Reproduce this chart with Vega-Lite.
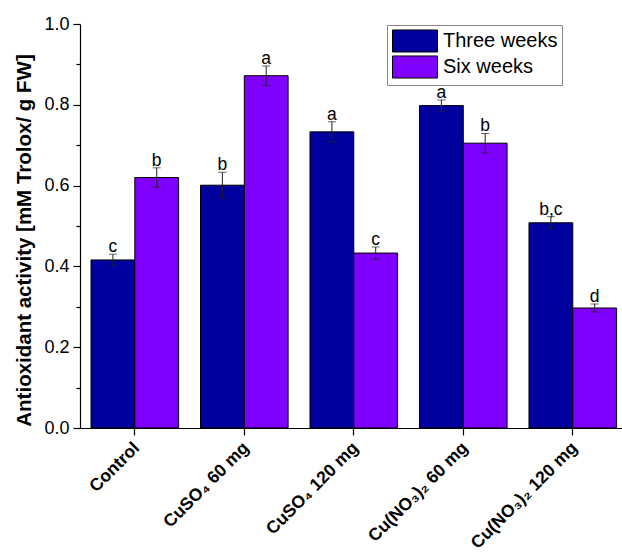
{
  "$schema": "https://vega.github.io/schema/vega-lite/v6.json",
  "width": 542,
  "height": 404,
  "autosize": {"type": "none"},
  "padding": {"left": 80, "top": 24, "right": 0, "bottom": 131},
  "background": "white",
  "config": {
    "view": {"stroke": null},
    "font": "Liberation Sans"
  },
  "data": {
    "values": [
      {"treatment": "Control", "period": "Three weeks", "value": 0.416, "lo": 0.402, "hi": 0.430, "letter": "c"},
      {"treatment": "Control", "period": "Six weeks", "value": 0.620, "lo": 0.596, "hi": 0.644, "letter": "b"},
      {"treatment": "CuSO₄ 60 mg", "period": "Three weeks", "value": 0.601, "lo": 0.569, "hi": 0.633, "letter": "b"},
      {"treatment": "CuSO₄ 60 mg", "period": "Six weeks", "value": 0.872, "lo": 0.848, "hi": 0.896, "letter": "a"},
      {"treatment": "CuSO₄ 120 mg", "period": "Three weeks", "value": 0.733, "lo": 0.708, "hi": 0.758, "letter": "a"},
      {"treatment": "CuSO₄ 120 mg", "period": "Six weeks", "value": 0.433, "lo": 0.418, "hi": 0.448, "letter": "c"},
      {"treatment": "Cu(NO₃)₂ 60 mg", "period": "Three weeks", "value": 0.798, "lo": 0.784, "hi": 0.812, "letter": "a"},
      {"treatment": "Cu(NO₃)₂ 60 mg", "period": "Six weeks", "value": 0.705, "lo": 0.681, "hi": 0.729, "letter": "b"},
      {"treatment": "Cu(NO₃)₂ 120 mg", "period": "Three weeks", "value": 0.508, "lo": 0.493, "hi": 0.523, "letter": "b,c"},
      {"treatment": "Cu(NO₃)₂ 120 mg", "period": "Six weeks", "value": 0.297, "lo": 0.287, "hi": 0.307, "letter": "d"}
    ]
  },
  "encoding": {
    "x": {
      "field": "treatment",
      "type": "nominal",
      "sort": ["Control", "CuSO₄ 60 mg", "CuSO₄ 120 mg", "Cu(NO₃)₂ 60 mg", "Cu(NO₃)₂ 120 mg"],
      "scale": {"paddingInner": 0.2, "paddingOuter": 0.075, "align": 0.67},
      "axis": {
        "title": null,
        "labelAngle": -45,
        "labelAlign": "right",
        "labelBaseline": "middle",
        "labelFontSize": 17.5,
        "labelFontWeight": "bold",
        "labelColor": "black",
        "labelPadding": 10,
        "labelOffset": 2,
        "tickSize": 7,
        "tickColor": "black",
        "domainColor": "black",
        "domainWidth": 1.2,
        "tickWidth": 1.2,
        "labelLimit": 300
      }
    },
    "xOffset": {"field": "period", "type": "nominal", "sort": ["Three weeks", "Six weeks"], "scale": {"paddingInner": 0, "paddingOuter": 0}}
  },
  "layer": [
    {
      "mark": {"type": "bar", "stroke": "black", "strokeWidth": 1},
      "encoding": {
        "y": {
          "field": "value",
          "type": "quantitative",
          "scale": {"domain": [0, 1], "nice": false, "zero": true},
          "axis": {
            "title": "Antioxidant activity [mM Trolox/ g FW]",
            "titleFontSize": 20.5,
            "titleFontWeight": "bold",
            "titleColor": "black",
            "titlePadding": 9,
            "titleY": 216,
            "values": [0, 0.1, 0.2, 0.3, 0.4, 0.5, 0.6, 0.7, 0.8, 0.9, 1.0],
            "labelExpr": "round(datum.value*10)%2==0 ? format(datum.value, '.1f') : ''",
            "labelFontSize": 18,
            "labelColor": "black",
            "labelPadding": 4,
            "tickSize": {"condition": {"test": "round(datum.value*10)%2==0", "value": 7}, "value": 4},
            "tickColor": "black",
            "tickWidth": 1.2,
            "domainColor": "black",
            "domainWidth": 1.2,
            "grid": false
          }
        },
        "color": {
          "field": "period",
          "type": "nominal",
          "sort": ["Three weeks", "Six weeks"],
          "scale": {"domain": ["Three weeks", "Six weeks"], "range": ["#00009F", "#8000FF"]},
          "legend": {
            "title": null,
            "orient": "none",
            "legendX": 307,
            "legendY": 1,
            "symbolType": "M-2,-0.98H2V0.98H-2Z",
            "symbolSize": 506,
            "symbolOffset": 12,
            "symbolStrokeColor": "black",
            "symbolStrokeWidth": 1,
            "labelFontSize": 20,
            "labelColor": "black",
            "labelOffset": 16,
            "rowPadding": -5,
            "padding": 4,
            "strokeColor": "#888888",
            "fillColor": "white",
            "labelLimit": 300
          }
        }
      }
    },
    {
      "mark": {"type": "rule", "color": "#222222", "strokeWidth": 1},
      "encoding": {
        "y": {"field": "lo", "type": "quantitative"},
        "y2": {"field": "hi"}
      }
    },
    {
      "mark": {"type": "tick", "color": "#222222", "size": 8, "thickness": 1},
      "encoding": {
        "y": {"field": "lo", "type": "quantitative"}
      }
    },
    {
      "mark": {"type": "tick", "color": "#222222", "size": 8, "thickness": 1},
      "encoding": {
        "y": {"field": "hi", "type": "quantitative"}
      }
    },
    {
      "mark": {"type": "text", "fontSize": 17.5, "color": "black", "baseline": "alphabetic", "dy": -2},
      "encoding": {
        "y": {"field": "hi", "type": "quantitative"},
        "text": {"field": "letter"}
      }
    }
  ]
}
